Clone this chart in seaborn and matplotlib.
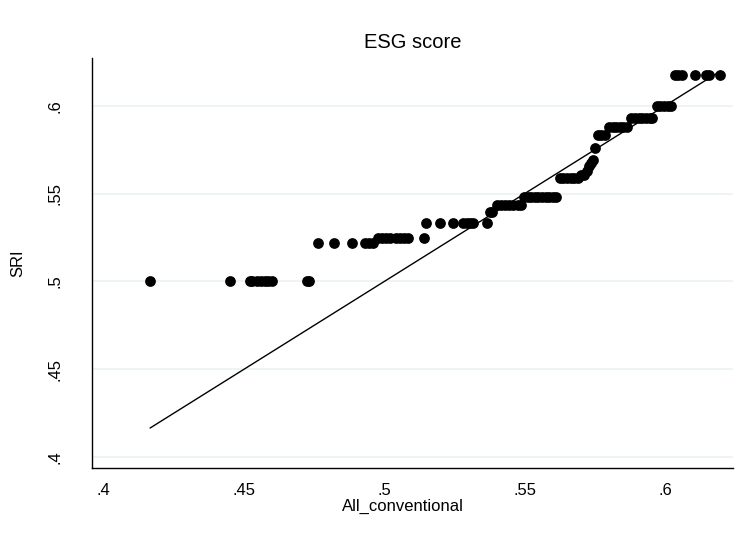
import numpy as np
import pandas as pd
import seaborn as sns
import matplotlib.pyplot as plt

# Q-Q pairs, grouped by SRI quantile level
sri_levels = [0.5000, 0.5219, 0.5247, 0.5333, 0.5397, 0.5435, 0.5482,
              0.5589, 0.5606, 0.5760, 0.5834, 0.5880, 0.5931, 0.5999, 0.6176]

conv_500 = [0.4165, 0.4450, 0.4522, 0.4529, 0.4545, 0.4560, 0.4574, 0.4585, 0.4599,
            0.4724, 0.4731]
conv_522 = [0.4764, 0.4821, 0.4885, 0.4931, 0.4946, 0.4960]
conv_525 = [0.4977, 0.4990, 0.5005, 0.5020, 0.5040, 0.5056, 0.5070, 0.5084, 0.5141]
conv_533 = [0.5147, 0.5198, 0.5243, 0.5281, 0.5293, 0.5305, 0.5316, 0.5366]
conv_540 = [0.5375, 0.5385]
conv_544 = [0.5400, 0.5415, 0.5430, 0.5445, 0.5460, 0.5475, 0.5488]
conv_548 = [0.5497, 0.5510, 0.5523, 0.5536, 0.5549, 0.5562, 0.5575, 0.5588, 0.5600, 0.5612]
conv_559 = [0.5625, 0.5638, 0.5651, 0.5664, 0.5677, 0.5690]
conv_561 = [0.5700, 0.5712]
conv_576 = [0.5750]
conv_583 = [0.5760, 0.5772, 0.5785]
conv_588 = [0.5800, 0.5813, 0.5826, 0.5839, 0.5852, 0.5865]
conv_593 = [0.5880, 0.5893, 0.5906, 0.5919, 0.5932, 0.5945, 0.5955]
conv_600 = [0.5970, 0.5983, 0.5996, 0.6010, 0.6022]
conv_618 = [0.6036, 0.6048, 0.6061, 0.6107, 0.6145, 0.6155, 0.6197]

# the short climb between the .56 and .576 steps
rise_conv = [0.5722, 0.5730, 0.5738, 0.5745]
rise_sri = [0.5630, 0.5655, 0.5675, 0.5692]

conv_groups = [conv_500, conv_522, conv_525, conv_533, conv_540, conv_544, conv_548,
               conv_559, conv_561, conv_576, conv_583, conv_588, conv_593, conv_600, conv_618]

tick_vals = [0.40, 0.45, 0.50, 0.55, 0.60]
tick_labels = ['.4', '.45', '.5', '.55', '.6']

rows = []
for lev, xs in zip(sri_levels, conv_groups):
    for xv in xs:
        rows.append((xv, lev))
for xv, yv in zip(rise_conv, rise_sri):
    rows.append((xv, yv))
df = pd.DataFrame(rows, columns=['All_conventional', 'SRI']).sort_values('All_conventional')

sns.set_style('white')
plt.rcParams['font.family'] = ['Liberation Sans', 'DejaVu Sans']
plt.rcParams['text.color'] = 'black'
plt.rcParams['axes.labelcolor'] = 'black'

fig = plt.figure(figsize=(7.41, 5.40), dpi=100)
ax = fig.add_axes([91.7 / 741, 72 / 540, 641.3 / 741, 410 / 540])

for t in tick_vals:
    ax.axhline(t, color='#eaf0f2', lw=1.1, zorder=0)

# 45 degree reference line over the data range
lo = min(df['All_conventional'].min(), df['SRI'].min())
hi = max(df['All_conventional'].max(), df['SRI'].max())
sns.lineplot(x=[lo, hi], y=[lo, hi], color='black', lw=1.0, ax=ax, zorder=2)
sns.scatterplot(data=df, x='All_conventional', y='SRI', color='black', s=60,
                linewidth=0, ax=ax, zorder=3)

ax.set_xlim(0.39569, 0.62423)
ax.set_ylim(0.39374, 0.6272)
ax.set_xticks(tick_vals)
ax.set_xticklabels(tick_labels)
ax.set_yticks(tick_vals)
ax.set_yticklabels(tick_labels, rotation=90, va='center')
ax.tick_params(axis='both', direction='out', length=7, width=0.9, color='black',
               labelsize=12, labelcolor='black')
ax.tick_params(axis='x', pad=4)
ax.tick_params(axis='y', pad=14)

sns.despine(ax=ax)
for side in ['left', 'bottom']:
    ax.spines[side].set_color('black')
    ax.spines[side].set_linewidth(1.0)

ax.set_xlabel('All_conventional', fontsize=12)
ax.set_ylabel('SRI', fontsize=12)
ax.xaxis.set_label_coords(0.485, -0.075)
ax.yaxis.set_label_coords(-0.104, 0.5)
ax.set_title('ESG score', fontsize=14.5, pad=7, color='black')

fig.savefig('out.png', dpi=100)
